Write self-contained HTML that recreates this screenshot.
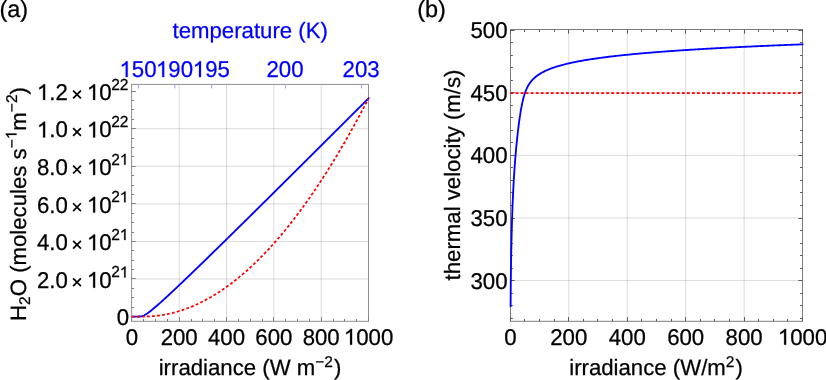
<!DOCTYPE html>
<html><head><meta charset="utf-8"><title>plot</title>
<style>
html,body{margin:0;padding:0;background:#fff;}
body{width:826px;height:380px;overflow:hidden;}
svg{display:block;will-change:transform;}
text{text-rendering:geometricPrecision;font-family:"Liberation Sans",sans-serif;font-size:22.2px;fill:#000;stroke:#000;stroke-width:0.25px;}
.b{fill:#0000ff;stroke:#0000ff;}
.s{font-size:15.5px;}
.l{font-size:23.5px;}
.h{fill:none;stroke:none;}
</style></head><body>
<svg width="826" height="380" viewBox="0 0 826 380">
<rect width="826" height="380" fill="#fff"></rect>

<line x1="179.19" y1="84.4" x2="179.19" y2="321.3" stroke="#000" stroke-opacity="0.145" stroke-width="1"></line>
<line x1="226.53" y1="84.4" x2="226.53" y2="321.3" stroke="#000" stroke-opacity="0.145" stroke-width="1"></line>
<line x1="273.87" y1="84.4" x2="273.87" y2="321.3" stroke="#000" stroke-opacity="0.145" stroke-width="1"></line>
<line x1="321.21" y1="84.4" x2="321.21" y2="321.3" stroke="#000" stroke-opacity="0.145" stroke-width="1"></line>
<line x1="131.6" y1="278.99" x2="368.5" y2="278.99" stroke="#000" stroke-opacity="0.145" stroke-width="1"></line>
<line x1="131.6" y1="241.43" x2="368.5" y2="241.43" stroke="#000" stroke-opacity="0.145" stroke-width="1"></line>
<line x1="131.6" y1="203.87" x2="368.5" y2="203.87" stroke="#000" stroke-opacity="0.145" stroke-width="1"></line>
<line x1="131.6" y1="166.31" x2="368.5" y2="166.31" stroke="#000" stroke-opacity="0.145" stroke-width="1"></line>
<line x1="131.6" y1="128.75" x2="368.5" y2="128.75" stroke="#000" stroke-opacity="0.145" stroke-width="1"></line>
<rect x="131.6" y="84.4" width="236.90" height="236.90" fill="none" stroke="#8f8f8f" stroke-width="1"></rect>
<line x1="131.50" y1="321.3" x2="131.50" y2="317.1" stroke="#808080" stroke-width="1"></line>
<line x1="143.50" y1="321.3" x2="143.50" y2="318.90000000000003" stroke="#808080" stroke-width="1"></line>
<line x1="155.50" y1="321.3" x2="155.50" y2="318.90000000000003" stroke="#808080" stroke-width="1"></line>
<line x1="167.50" y1="321.3" x2="167.50" y2="318.90000000000003" stroke="#808080" stroke-width="1"></line>
<line x1="179.50" y1="321.3" x2="179.50" y2="317.1" stroke="#808080" stroke-width="1"></line>
<line x1="191.50" y1="321.3" x2="191.50" y2="318.90000000000003" stroke="#808080" stroke-width="1"></line>
<line x1="202.50" y1="321.3" x2="202.50" y2="318.90000000000003" stroke="#808080" stroke-width="1"></line>
<line x1="214.50" y1="321.3" x2="214.50" y2="318.90000000000003" stroke="#808080" stroke-width="1"></line>
<line x1="226.50" y1="321.3" x2="226.50" y2="317.1" stroke="#808080" stroke-width="1"></line>
<line x1="238.50" y1="321.3" x2="238.50" y2="318.90000000000003" stroke="#808080" stroke-width="1"></line>
<line x1="250.50" y1="321.3" x2="250.50" y2="318.90000000000003" stroke="#808080" stroke-width="1"></line>
<line x1="262.50" y1="321.3" x2="262.50" y2="318.90000000000003" stroke="#808080" stroke-width="1"></line>
<line x1="273.50" y1="321.3" x2="273.50" y2="317.1" stroke="#808080" stroke-width="1"></line>
<line x1="285.50" y1="321.3" x2="285.50" y2="318.90000000000003" stroke="#808080" stroke-width="1"></line>
<line x1="297.50" y1="321.3" x2="297.50" y2="318.90000000000003" stroke="#808080" stroke-width="1"></line>
<line x1="309.50" y1="321.3" x2="309.50" y2="318.90000000000003" stroke="#808080" stroke-width="1"></line>
<line x1="321.50" y1="321.3" x2="321.50" y2="317.1" stroke="#808080" stroke-width="1"></line>
<line x1="333.50" y1="321.3" x2="333.50" y2="318.90000000000003" stroke="#808080" stroke-width="1"></line>
<line x1="344.50" y1="321.3" x2="344.50" y2="318.90000000000003" stroke="#808080" stroke-width="1"></line>
<line x1="356.50" y1="321.3" x2="356.50" y2="318.90000000000003" stroke="#808080" stroke-width="1"></line>
<line x1="368.50" y1="321.3" x2="368.50" y2="317.1" stroke="#808080" stroke-width="1"></line>
<line x1="131.6" y1="316.50" x2="135.79999999999998" y2="316.50" stroke="#808080" stroke-width="1"></line>
<line x1="131.6" y1="307.50" x2="134.0" y2="307.50" stroke="#808080" stroke-width="1"></line>
<line x1="131.6" y1="297.50" x2="134.0" y2="297.50" stroke="#808080" stroke-width="1"></line>
<line x1="131.6" y1="288.50" x2="134.0" y2="288.50" stroke="#808080" stroke-width="1"></line>
<line x1="131.6" y1="278.50" x2="135.79999999999998" y2="278.50" stroke="#808080" stroke-width="1"></line>
<line x1="131.6" y1="269.50" x2="134.0" y2="269.50" stroke="#808080" stroke-width="1"></line>
<line x1="131.6" y1="260.50" x2="134.0" y2="260.50" stroke="#808080" stroke-width="1"></line>
<line x1="131.6" y1="250.50" x2="134.0" y2="250.50" stroke="#808080" stroke-width="1"></line>
<line x1="131.6" y1="241.50" x2="135.79999999999998" y2="241.50" stroke="#808080" stroke-width="1"></line>
<line x1="131.6" y1="232.50" x2="134.0" y2="232.50" stroke="#808080" stroke-width="1"></line>
<line x1="131.6" y1="222.50" x2="134.0" y2="222.50" stroke="#808080" stroke-width="1"></line>
<line x1="131.6" y1="213.50" x2="134.0" y2="213.50" stroke="#808080" stroke-width="1"></line>
<line x1="131.6" y1="203.50" x2="135.79999999999998" y2="203.50" stroke="#808080" stroke-width="1"></line>
<line x1="131.6" y1="194.50" x2="134.0" y2="194.50" stroke="#808080" stroke-width="1"></line>
<line x1="131.6" y1="185.50" x2="134.0" y2="185.50" stroke="#808080" stroke-width="1"></line>
<line x1="131.6" y1="175.50" x2="134.0" y2="175.50" stroke="#808080" stroke-width="1"></line>
<line x1="131.6" y1="166.50" x2="135.79999999999998" y2="166.50" stroke="#808080" stroke-width="1"></line>
<line x1="131.6" y1="156.50" x2="134.0" y2="156.50" stroke="#808080" stroke-width="1"></line>
<line x1="131.6" y1="147.50" x2="134.0" y2="147.50" stroke="#808080" stroke-width="1"></line>
<line x1="131.6" y1="138.50" x2="134.0" y2="138.50" stroke="#808080" stroke-width="1"></line>
<line x1="131.6" y1="128.50" x2="135.79999999999998" y2="128.50" stroke="#808080" stroke-width="1"></line>
<line x1="131.6" y1="119.50" x2="134.0" y2="119.50" stroke="#808080" stroke-width="1"></line>
<line x1="131.6" y1="109.50" x2="134.0" y2="109.50" stroke="#808080" stroke-width="1"></line>
<line x1="131.6" y1="100.50" x2="134.0" y2="100.50" stroke="#808080" stroke-width="1"></line>
<line x1="131.6" y1="91.50" x2="135.79999999999998" y2="91.50" stroke="#808080" stroke-width="1"></line>
<line x1="138.4" y1="84.4" x2="138.4" y2="88.4" stroke="#9c9cff" stroke-width="1"></line>
<line x1="174.9" y1="84.4" x2="174.9" y2="88.4" stroke="#9c9cff" stroke-width="1"></line>
<line x1="211.7" y1="84.4" x2="211.7" y2="88.4" stroke="#9c9cff" stroke-width="1"></line>
<line x1="285.4" y1="84.4" x2="285.4" y2="88.4" stroke="#9c9cff" stroke-width="1"></line>
<line x1="361.5" y1="84.4" x2="361.5" y2="88.4" stroke="#9c9cff" stroke-width="1"></line>
<polyline points="131.85,316.55 132.45,316.55 133.04,316.55 133.64,316.55 134.23,316.55 134.83,316.55 135.42,316.55 136.02,316.55 136.61,316.55 137.21,316.55 137.80,316.55 138.40,316.54 138.99,316.53 139.59,316.51 140.18,316.47 140.78,316.40 141.37,316.30 141.97,316.16 142.56,315.98 143.16,315.77 143.75,315.51 144.35,315.22 144.94,314.90 145.54,314.56 146.13,314.19 146.73,313.81 147.32,313.40 147.92,312.99 148.51,312.56 149.11,312.11 149.70,311.66 150.30,311.20 150.89,310.74 151.49,310.26 152.08,309.78 152.68,309.29 153.27,308.80 153.87,308.30 154.46,307.80 155.06,307.30 155.65,306.79 156.25,306.27 156.84,305.76 157.44,305.24 158.03,304.72 158.63,304.19 159.22,303.67 159.82,303.14 160.41,302.61 161.01,302.07 161.60,301.54 162.20,301.00 162.79,300.47 163.39,299.93 163.98,299.38 164.58,298.84 165.17,298.30 165.77,297.75 166.36,297.20 166.96,296.66 167.55,296.11 168.15,295.56 168.74,295.01 169.34,294.45 169.93,293.90 170.53,293.35 171.12,292.79 171.72,292.24 172.31,291.68 172.91,291.12 173.50,290.56 174.10,290.00 174.69,289.44 175.29,288.88 175.88,288.32 176.48,287.76 177.07,287.20 177.67,286.64 178.26,286.07 178.86,285.51 179.45,284.95 180.05,284.38 180.64,283.81 181.24,283.25 181.83,282.68 182.43,282.11 183.02,281.55 183.62,280.98 184.21,280.41 184.81,279.84 185.40,279.27 186.00,278.70 186.59,278.13 187.19,277.56 187.78,276.99 188.38,276.42 188.97,275.85 189.57,275.28 190.16,274.71 190.76,274.13 191.35,273.56 191.95,272.99 192.54,272.42 193.14,271.84 193.73,271.27 194.33,270.69 194.92,270.12 195.52,269.54 196.11,268.97 196.71,268.39 197.30,267.82 197.90,267.24 198.49,266.67 199.09,266.09 199.68,265.51 200.28,264.94 200.87,264.36 201.47,263.78 202.06,263.20 202.66,262.63 203.25,262.05 203.85,261.47 204.44,260.89 205.04,260.31 205.63,259.74 206.23,259.16 206.82,258.58 207.42,258.00 208.01,257.42 208.61,256.84 209.20,256.26 209.80,255.68 210.39,255.10 210.99,254.52 211.58,253.94 212.18,253.36 212.77,252.78 213.37,252.20 213.96,251.62 214.56,251.03 215.15,250.45 215.75,249.87 216.34,249.29 216.94,248.71 217.53,248.13 218.13,247.54 218.72,246.96 219.32,246.38 219.91,245.80 220.51,245.22 221.10,244.63 221.70,244.05 222.29,243.47 222.89,242.88 223.48,242.30 224.08,241.72 224.67,241.13 225.27,240.55 225.86,239.97 226.46,239.38 227.05,238.80 227.65,238.21 228.24,237.63 228.84,237.05 229.43,236.46 230.03,235.88 230.62,235.29 231.22,234.71 231.81,234.12 232.41,233.54 233.00,232.95 233.60,232.37 234.19,231.78 234.79,231.20 235.38,230.61 235.98,230.03 236.57,229.44 237.17,228.86 237.76,228.27 238.36,227.68 238.95,227.10 239.55,226.51 240.14,225.93 240.74,225.34 241.33,224.75 241.93,224.17 242.52,223.58 243.12,222.99 243.71,222.41 244.31,221.82 244.90,221.23 245.50,220.65 246.09,220.06 246.69,219.47 247.28,218.89 247.88,218.30 248.47,217.71 249.07,217.12 249.66,216.54 250.26,215.95 250.85,215.36 251.45,214.78 252.04,214.19 252.64,213.60 253.23,213.01 253.83,212.42 254.42,211.84 255.02,211.25 255.61,210.66 256.21,210.07 256.80,209.48 257.40,208.90 257.99,208.31 258.59,207.72 259.18,207.13 259.78,206.54 260.37,205.95 260.97,205.37 261.56,204.78 262.16,204.19 262.75,203.60 263.35,203.01 263.94,202.42 264.54,201.83 265.13,201.24 265.73,200.66 266.32,200.07 266.92,199.48 267.51,198.89 268.11,198.30 268.70,197.71 269.30,197.12 269.89,196.53 270.49,195.94 271.08,195.35 271.68,194.76 272.27,194.17 272.87,193.58 273.46,192.99 274.06,192.40 274.65,191.81 275.25,191.22 275.84,190.63 276.44,190.04 277.03,189.45 277.63,188.86 278.22,188.27 278.82,187.68 279.41,187.09 280.01,186.50 280.60,185.91 281.20,185.32 281.79,184.73 282.39,184.14 282.98,183.55 283.58,182.96 284.17,182.37 284.77,181.78 285.36,181.19 285.96,180.60 286.55,180.01 287.15,179.42 287.74,178.83 288.34,178.24 288.93,177.65 289.53,177.05 290.12,176.46 290.72,175.87 291.31,175.28 291.91,174.69 292.50,174.10 293.10,173.51 293.69,172.92 294.29,172.33 294.88,171.73 295.48,171.14 296.07,170.55 296.67,169.96 297.26,169.37 297.86,168.78 298.45,168.19 299.05,167.60 299.64,167.00 300.24,166.41 300.83,165.82 301.43,165.23 302.02,164.64 302.62,164.05 303.21,163.45 303.81,162.86 304.40,162.27 305.00,161.68 305.59,161.09 306.19,160.50 306.78,159.90 307.38,159.31 307.97,158.72 308.57,158.13 309.16,157.54 309.76,156.94 310.35,156.35 310.95,155.76 311.54,155.17 312.14,154.57 312.73,153.98 313.33,153.39 313.92,152.80 314.52,152.21 315.11,151.61 315.71,151.02 316.30,150.43 316.90,149.84 317.49,149.24 318.09,148.65 318.68,148.06 319.28,147.47 319.87,146.87 320.47,146.28 321.06,145.69 321.66,145.10 322.25,144.50 322.85,143.91 323.44,143.32 324.04,142.73 324.63,142.13 325.23,141.54 325.82,140.95 326.42,140.35 327.01,139.76 327.61,139.17 328.20,138.58 328.80,137.98 329.39,137.39 329.99,136.80 330.58,136.20 331.18,135.61 331.77,135.02 332.37,134.42 332.96,133.83 333.56,133.24 334.15,132.65 334.75,132.05 335.34,131.46 335.94,130.87 336.53,130.27 337.13,129.68 337.72,129.09 338.32,128.49 338.91,127.90 339.51,127.31 340.10,126.71 340.70,126.12 341.29,125.53 341.89,124.93 342.48,124.34 343.08,123.75 343.67,123.15 344.27,122.56 344.86,121.96 345.46,121.37 346.05,120.78 346.65,120.18 347.24,119.59 347.84,119.00 348.43,118.40 349.03,117.81 349.62,117.22 350.22,116.62 350.81,116.03 351.41,115.43 352.00,114.84 352.60,114.25 353.19,113.65 353.79,113.06 354.38,112.47 354.98,111.87 355.57,111.28 356.17,110.68 356.76,110.09 357.36,109.50 357.95,108.90 358.55,108.31 359.14,107.71 359.74,107.12 360.33,106.53 360.93,105.93 361.52,105.34 362.12,104.74 362.71,104.15 363.31,103.55 363.90,102.96 364.50,102.37 365.10,101.77 365.69,101.18 366.29,100.58 366.88,99.99 367.48,99.39 368.07,98.80 368.67,98.21 369.26,97.61" fill="none" stroke="#0000ff" stroke-width="1.85" stroke-linejoin="round"></polyline>
<polyline points="131.85,316.55 132.44,316.55 133.04,316.55 133.63,316.55 134.22,316.55 134.82,316.55 135.41,316.55 136.00,316.55 136.60,316.55 137.19,316.55 137.78,316.55 138.38,316.55 138.97,316.55 139.56,316.55 140.16,316.55 140.75,316.55 141.34,316.55 141.93,316.55 142.53,316.55 143.12,316.55 143.71,316.55 144.31,316.55 144.90,316.54 145.49,316.54 146.09,316.53 146.68,316.51 147.27,316.49 147.87,316.47 148.46,316.45 149.05,316.43 149.65,316.40 150.24,316.36 150.83,316.33 151.43,316.29 152.02,316.25 152.61,316.21 153.21,316.16 153.80,316.11 154.39,316.06 154.99,316.00 155.58,315.94 156.17,315.88 156.77,315.81 157.36,315.74 157.95,315.67 158.55,315.60 159.14,315.52 159.73,315.44 160.33,315.35 160.92,315.27 161.51,315.18 162.10,315.09 162.70,314.99 163.29,314.89 163.88,314.79 164.48,314.68 165.07,314.58 165.66,314.47 166.26,314.35 166.85,314.23 167.44,314.11 168.04,313.99 168.63,313.86 169.22,313.74 169.82,313.60 170.41,313.47 171.00,313.33 171.60,313.19 172.19,313.04 172.78,312.90 173.38,312.75 173.97,312.59 174.56,312.44 175.16,312.28 175.75,312.11 176.34,311.95 176.94,311.78 177.53,311.61 178.12,311.43 178.72,311.25 179.31,311.07 179.90,310.89 180.50,310.70 181.09,310.51 181.68,310.32 182.27,310.12 182.87,309.92 183.46,309.72 184.05,309.52 184.65,309.31 185.24,309.10 185.83,308.88 186.43,308.67 187.02,308.44 187.61,308.22 188.21,307.99 188.80,307.77 189.39,307.53 189.99,307.30 190.58,307.06 191.17,306.82 191.77,306.57 192.36,306.32 192.95,306.07 193.55,305.82 194.14,305.56 194.73,305.30 195.33,305.04 195.92,304.77 196.51,304.51 197.11,304.23 197.70,303.96 198.29,303.68 198.89,303.40 199.48,303.12 200.07,302.83 200.67,302.54 201.26,302.24 201.85,301.95 202.44,301.65 203.04,301.35 203.63,301.04 204.22,300.73 204.82,300.42 205.41,300.11 206.00,299.79 206.60,299.47 207.19,299.14 207.78,298.82 208.38,298.49 208.97,298.16 209.56,297.82 210.16,297.48 210.75,297.14 211.34,296.79 211.94,296.45 212.53,296.09 213.12,295.74 213.72,295.38 214.31,295.02 214.90,294.66 215.50,294.29 216.09,293.92 216.68,293.55 217.28,293.18 217.87,292.80 218.46,292.42 219.06,292.03 219.65,291.65 220.24,291.25 220.83,290.86 221.43,290.46 222.02,290.07 222.61,289.66 223.21,289.26 223.80,288.85 224.39,288.44 224.99,288.02 225.58,287.60 226.17,287.18 226.77,286.76 227.36,286.33 227.95,285.90 228.55,285.47 229.14,285.03 229.73,284.59 230.33,284.15 230.92,283.71 231.51,283.26 232.11,282.81 232.70,282.35 233.29,281.90 233.89,281.44 234.48,280.97 235.07,280.51 235.67,280.04 236.26,279.56 236.85,279.09 237.45,278.61 238.04,278.13 238.63,277.64 239.23,277.16 239.82,276.66 240.41,276.17 241.00,275.67 241.60,275.17 242.19,274.67 242.78,274.16 243.38,273.66 243.97,273.14 244.56,272.63 245.16,272.11 245.75,271.59 246.34,271.07 246.94,270.54 247.53,270.01 248.12,269.47 248.72,268.94 249.31,268.40 249.90,267.86 250.50,267.31 251.09,266.76 251.68,266.21 252.28,265.66 252.87,265.10 253.46,264.54 254.06,263.98 254.65,263.41 255.24,262.84 255.84,262.27 256.43,261.69 257.02,261.11 257.62,260.53 258.21,259.94 258.80,259.36 259.40,258.77 259.99,258.17 260.58,257.57 261.17,256.97 261.77,256.37 262.36,255.77 262.95,255.16 263.55,254.54 264.14,253.93 264.73,253.31 265.33,252.69 265.92,252.06 266.51,251.44 267.11,250.81 267.70,250.17 268.29,249.54 268.89,248.90 269.48,248.25 270.07,247.61 270.67,246.96 271.26,246.31 271.85,245.65 272.45,245.00 273.04,244.33 273.63,243.67 274.23,243.00 274.82,242.33 275.41,241.66 276.01,240.98 276.60,240.31 277.19,239.62 277.79,238.94 278.38,238.25 278.97,237.56 279.57,236.86 280.16,236.17 280.75,235.47 281.34,234.76 281.94,234.06 282.53,233.35 283.12,232.63 283.72,231.92 284.31,231.20 284.90,230.48 285.50,229.75 286.09,229.03 286.68,228.30 287.28,227.56 287.87,226.83 288.46,226.09 289.06,225.34 289.65,224.60 290.24,223.85 290.84,223.10 291.43,222.34 292.02,221.58 292.62,220.82 293.21,220.06 293.80,219.29 294.40,218.52 294.99,217.75 295.58,216.97 296.18,216.19 296.77,215.41 297.36,214.62 297.96,213.84 298.55,213.04 299.14,212.25 299.73,211.45 300.33,210.65 300.92,209.85 301.51,209.04 302.11,208.23 302.70,207.42 303.29,206.60 303.89,205.78 304.48,204.96 305.07,204.14 305.67,203.31 306.26,202.48 306.85,201.64 307.45,200.81 308.04,199.97 308.63,199.12 309.23,198.28 309.82,197.43 310.41,196.58 311.01,195.72 311.60,194.86 312.19,194.00 312.79,193.14 313.38,192.27 313.97,191.40 314.57,190.53 315.16,189.65 315.75,188.77 316.35,187.89 316.94,187.00 317.53,186.11 318.13,185.22 318.72,184.33 319.31,183.43 319.90,182.53 320.50,181.62 321.09,180.72 321.68,179.81 322.28,178.89 322.87,177.98 323.46,177.06 324.06,176.14 324.65,175.21 325.24,174.28 325.84,173.35 326.43,172.42 327.02,171.48 327.62,170.54 328.21,169.60 328.80,168.65 329.40,167.70 329.99,166.75 330.58,165.79 331.18,164.83 331.77,163.87 332.36,162.91 332.96,161.94 333.55,160.97 334.14,160.00 334.74,159.02 335.33,158.04 335.92,157.06 336.52,156.07 337.11,155.08 337.70,154.09 338.30,153.09 338.89,152.10 339.48,151.10 340.07,150.09 340.67,149.08 341.26,148.07 341.85,147.06 342.45,146.04 343.04,145.03 343.63,144.00 344.23,142.98 344.82,141.95 345.41,140.92 346.01,139.88 346.60,138.85 347.19,137.80 347.79,136.76 348.38,135.71 348.97,134.66 349.57,133.61 350.16,132.56 350.75,131.50 351.35,130.44 351.94,129.37 352.53,128.30 353.13,127.23 353.72,126.16 354.31,125.08 354.91,124.00 355.50,122.92 356.09,121.83 356.69,120.74 357.28,119.65 357.87,118.56 358.47,117.46 359.06,116.36 359.65,115.25 360.24,114.14 360.84,113.03 361.43,111.92 362.02,110.80 362.62,109.68 363.21,108.56 363.80,107.44 364.40,106.31 364.99,105.18 365.58,104.04 366.18,102.90 366.77,101.76 367.36,100.62 367.96,99.47 368.55,98.32" fill="none" stroke="#ff0000" stroke-width="1.75" stroke-dasharray="2.9,2.14"></polyline>
<text transform="translate(131.85,344.65) scale(1,1.03)" text-anchor="middle">0</text>
<text transform="translate(179.19,344.65) scale(1,1.03)" text-anchor="middle">200</text>
<text transform="translate(226.53,344.65) scale(1,1.03)" text-anchor="middle">400</text>
<text transform="translate(273.87,344.65) scale(1,1.03)" text-anchor="middle">600</text>
<text transform="translate(321.21,344.65) scale(1,1.03)" text-anchor="middle">800</text>
<text transform="translate(368.55,344.65) scale(1,1.03)" text-anchor="middle"><tspan class="h">1</tspan>000</text><path d="M575 0V1150Q512 1088 408 1026T220 934V1104Q368 1174 479 1273T638 1409H756V0Z" fill="rgb(0, 0, 0)" stroke="rgb(0, 0, 0)" stroke-width="23.1" transform="translate(368.55,344.65) scale(1,1.03) translate(-24.69,0.00) scale(0.01084,-0.01084)"></path>
<text class="b" transform="translate(138.0,77.1) scale(1,1.03)" text-anchor="middle"><tspan class="h">1</tspan>50</text><path d="M575 0V1150Q512 1088 408 1026T220 934V1104Q368 1174 479 1273T638 1409H756V0Z" fill="rgb(0, 0, 255)" stroke="rgb(0, 0, 255)" stroke-width="23.1" transform="translate(138.0,77.1) scale(1,1.03) translate(-18.52,0.00) scale(0.01084,-0.01084)"></path>
<text class="b" transform="translate(174.5,77.1) scale(1,1.03)" text-anchor="middle"><tspan class="h">1</tspan>90</text><path d="M575 0V1150Q512 1088 408 1026T220 934V1104Q368 1174 479 1273T638 1409H756V0Z" fill="rgb(0, 0, 255)" stroke="rgb(0, 0, 255)" stroke-width="23.1" transform="translate(174.5,77.1) scale(1,1.03) translate(-18.52,0.00) scale(0.01084,-0.01084)"></path>
<text class="b" transform="translate(211.29999999999998,77.1) scale(1,1.03)" text-anchor="middle"><tspan class="h">1</tspan>95</text><path d="M575 0V1150Q512 1088 408 1026T220 934V1104Q368 1174 479 1273T638 1409H756V0Z" fill="rgb(0, 0, 255)" stroke="rgb(0, 0, 255)" stroke-width="23.1" transform="translate(211.29999999999998,77.1) scale(1,1.03) translate(-18.52,0.00) scale(0.01084,-0.01084)"></path>
<text class="b" transform="translate(285.0,77.1) scale(1,1.03)" text-anchor="middle">200</text>
<text class="b" transform="translate(361.1,77.1) scale(1,1.03)" text-anchor="middle">203</text>
<text transform="translate(36.9,99.89) scale(1,1.03)"><tspan class="h">1</tspan>.2</text><path d="M575 0V1150Q512 1088 408 1026T220 934V1104Q368 1174 479 1273T638 1409H756V0Z" fill="rgb(0, 0, 0)" stroke="rgb(0, 0, 0)" stroke-width="23.1" transform="translate(36.9,99.89) scale(1,1.03) translate(0.00,0.00) scale(0.01084,-0.01084)"></path>
<path d="M73.10 90.59L80.90 98.39M73.10 98.39L80.90 90.59" stroke="#000" stroke-width="1.7" fill="none"></path>
<text transform="translate(111.6,99.89) scale(1,1.03)" text-anchor="end"><tspan class="h">1</tspan>0</text><path d="M575 0V1150Q512 1088 408 1026T220 934V1104Q368 1174 479 1273T638 1409H756V0Z" fill="rgb(0, 0, 0)" stroke="rgb(0, 0, 0)" stroke-width="23.1" transform="translate(111.6,99.89) scale(1,1.03) translate(-24.69,0.00) scale(0.01084,-0.01084)"></path>
<text class="s" transform="translate(111.2,89.69) scale(1,1.03)">22</text>
<text transform="translate(36.9,137.45) scale(1,1.03)"><tspan class="h">1</tspan>.0</text><path d="M575 0V1150Q512 1088 408 1026T220 934V1104Q368 1174 479 1273T638 1409H756V0Z" fill="rgb(0, 0, 0)" stroke="rgb(0, 0, 0)" stroke-width="23.1" transform="translate(36.9,137.45) scale(1,1.03) translate(0.00,0.00) scale(0.01084,-0.01084)"></path>
<path d="M73.10 128.15L80.90 135.95M73.10 135.95L80.90 128.15" stroke="#000" stroke-width="1.7" fill="none"></path>
<text transform="translate(111.6,137.45) scale(1,1.03)" text-anchor="end"><tspan class="h">1</tspan>0</text><path d="M575 0V1150Q512 1088 408 1026T220 934V1104Q368 1174 479 1273T638 1409H756V0Z" fill="rgb(0, 0, 0)" stroke="rgb(0, 0, 0)" stroke-width="23.1" transform="translate(111.6,137.45) scale(1,1.03) translate(-24.69,0.00) scale(0.01084,-0.01084)"></path>
<text class="s" transform="translate(111.2,127.25) scale(1,1.03)">22</text>
<text transform="translate(36.9,175.01) scale(1,1.03)">8.0</text>
<path d="M73.10 165.71L80.90 173.51M73.10 173.51L80.90 165.71" stroke="#000" stroke-width="1.7" fill="none"></path>
<text transform="translate(111.6,175.01) scale(1,1.03)" text-anchor="end"><tspan class="h">1</tspan>0</text><path d="M575 0V1150Q512 1088 408 1026T220 934V1104Q368 1174 479 1273T638 1409H756V0Z" fill="rgb(0, 0, 0)" stroke="rgb(0, 0, 0)" stroke-width="23.1" transform="translate(111.6,175.01) scale(1,1.03) translate(-24.69,0.00) scale(0.01084,-0.01084)"></path>
<text class="s" transform="translate(111.2,164.81) scale(1,1.03)">2<tspan class="h">1</tspan></text><path d="M575 0V1150Q512 1088 408 1026T220 934V1104Q368 1174 479 1273T638 1409H756V0Z" fill="rgb(0, 0, 0)" stroke="rgb(0, 0, 0)" stroke-width="33.0" transform="translate(111.2,164.81) scale(1,1.03) translate(8.63,0.00) scale(0.00757,-0.00757)"></path>
<text transform="translate(36.9,212.57) scale(1,1.03)">6.0</text>
<path d="M73.10 203.27L80.90 211.07M73.10 211.07L80.90 203.27" stroke="#000" stroke-width="1.7" fill="none"></path>
<text transform="translate(111.6,212.57) scale(1,1.03)" text-anchor="end"><tspan class="h">1</tspan>0</text><path d="M575 0V1150Q512 1088 408 1026T220 934V1104Q368 1174 479 1273T638 1409H756V0Z" fill="rgb(0, 0, 0)" stroke="rgb(0, 0, 0)" stroke-width="23.1" transform="translate(111.6,212.57) scale(1,1.03) translate(-24.69,0.00) scale(0.01084,-0.01084)"></path>
<text class="s" transform="translate(111.2,202.37) scale(1,1.03)">2<tspan class="h">1</tspan></text><path d="M575 0V1150Q512 1088 408 1026T220 934V1104Q368 1174 479 1273T638 1409H756V0Z" fill="rgb(0, 0, 0)" stroke="rgb(0, 0, 0)" stroke-width="33.0" transform="translate(111.2,202.37) scale(1,1.03) translate(8.63,0.00) scale(0.00757,-0.00757)"></path>
<text transform="translate(36.9,250.13) scale(1,1.03)">4.0</text>
<path d="M73.10 240.83L80.90 248.63M73.10 248.63L80.90 240.83" stroke="#000" stroke-width="1.7" fill="none"></path>
<text transform="translate(111.6,250.13) scale(1,1.03)" text-anchor="end"><tspan class="h">1</tspan>0</text><path d="M575 0V1150Q512 1088 408 1026T220 934V1104Q368 1174 479 1273T638 1409H756V0Z" fill="rgb(0, 0, 0)" stroke="rgb(0, 0, 0)" stroke-width="23.1" transform="translate(111.6,250.13) scale(1,1.03) translate(-24.69,0.00) scale(0.01084,-0.01084)"></path>
<text class="s" transform="translate(111.2,239.93) scale(1,1.03)">2<tspan class="h">1</tspan></text><path d="M575 0V1150Q512 1088 408 1026T220 934V1104Q368 1174 479 1273T638 1409H756V0Z" fill="rgb(0, 0, 0)" stroke="rgb(0, 0, 0)" stroke-width="33.0" transform="translate(111.2,239.93) scale(1,1.03) translate(8.63,0.00) scale(0.00757,-0.00757)"></path>
<text transform="translate(36.9,287.69) scale(1,1.03)">2.0</text>
<path d="M73.10 278.39L80.90 286.19M73.10 286.19L80.90 278.39" stroke="#000" stroke-width="1.7" fill="none"></path>
<text transform="translate(111.6,287.69) scale(1,1.03)" text-anchor="end"><tspan class="h">1</tspan>0</text><path d="M575 0V1150Q512 1088 408 1026T220 934V1104Q368 1174 479 1273T638 1409H756V0Z" fill="rgb(0, 0, 0)" stroke="rgb(0, 0, 0)" stroke-width="23.1" transform="translate(111.6,287.69) scale(1,1.03) translate(-24.69,0.00) scale(0.01084,-0.01084)"></path>
<text class="s" transform="translate(111.2,277.49) scale(1,1.03)">2<tspan class="h">1</tspan></text><path d="M575 0V1150Q512 1088 408 1026T220 934V1104Q368 1174 479 1273T638 1409H756V0Z" fill="rgb(0, 0, 0)" stroke="rgb(0, 0, 0)" stroke-width="33.0" transform="translate(111.2,277.49) scale(1,1.03) translate(8.63,0.00) scale(0.00757,-0.00757)"></path>
<text transform="translate(129,324.55) scale(1,1.03)" text-anchor="end">0</text>
<text class="l" x="-0.6" y="16.8">(a)</text>
<text class="b" x="250.2" y="37.5" text-anchor="middle">temperature (K)</text>
<text x="250" y="374.6" text-anchor="middle">irradiance (W m<tspan class="s" dy="-7.8">−2</tspan><tspan dy="7.8" dx="1">)</tspan></text>
<text transform="translate(25.7,204) rotate(-90)" text-anchor="middle">H<tspan class="s" dy="4.5">2</tspan><tspan dy="-4.5">O (molecules s</tspan><tspan class="s" dy="-9.2">−<tspan class="h">1</tspan></tspan><tspan dy="9.2">m</tspan><tspan class="s" dy="-9.2">−2</tspan><tspan dy="9.2">)</tspan></text><path d="M575 0V1150Q512 1088 408 1026T220 934V1104Q368 1174 479 1273T638 1409H756V0Z" fill="rgb(0, 0, 0)" stroke="rgb(0, 0, 0)" stroke-width="33.0" transform="translate(25.7,204) rotate(-90) translate(64.75,-9.20) scale(0.00757,-0.00757)"></path>
<line x1="568.76" y1="29.5" x2="568.76" y2="321.3" stroke="#000" stroke-opacity="0.145" stroke-width="1"></line>
<line x1="627.22" y1="29.5" x2="627.22" y2="321.3" stroke="#000" stroke-opacity="0.145" stroke-width="1"></line>
<line x1="685.68" y1="29.5" x2="685.68" y2="321.3" stroke="#000" stroke-opacity="0.145" stroke-width="1"></line>
<line x1="744.14" y1="29.5" x2="744.14" y2="321.3" stroke="#000" stroke-opacity="0.145" stroke-width="1"></line>
<line x1="510.5" y1="280.60" x2="802.5" y2="280.60" stroke="#000" stroke-opacity="0.145" stroke-width="1"></line>
<line x1="510.5" y1="218.00" x2="802.5" y2="218.00" stroke="#000" stroke-opacity="0.145" stroke-width="1"></line>
<line x1="510.5" y1="155.40" x2="802.5" y2="155.40" stroke="#000" stroke-opacity="0.145" stroke-width="1"></line>
<line x1="510.5" y1="92.80" x2="802.5" y2="92.80" stroke="#000" stroke-opacity="0.145" stroke-width="1"></line>
<rect x="510.5" y="29.5" width="292.00" height="291.80" fill="none" stroke="#7c7c7c" stroke-width="1"></rect>
<line x1="510.50" y1="321.3" x2="510.50" y2="317.1" stroke="#5c5c5c" stroke-width="1"></line>
<line x1="510.50" y1="29.5" x2="510.50" y2="33.7" stroke="#5c5c5c" stroke-width="1"></line>
<line x1="524.50" y1="321.3" x2="524.50" y2="318.90000000000003" stroke="#5c5c5c" stroke-width="1"></line>
<line x1="524.50" y1="29.5" x2="524.50" y2="31.9" stroke="#5c5c5c" stroke-width="1"></line>
<line x1="539.50" y1="321.3" x2="539.50" y2="318.90000000000003" stroke="#5c5c5c" stroke-width="1"></line>
<line x1="539.50" y1="29.5" x2="539.50" y2="31.9" stroke="#5c5c5c" stroke-width="1"></line>
<line x1="554.50" y1="321.3" x2="554.50" y2="318.90000000000003" stroke="#5c5c5c" stroke-width="1"></line>
<line x1="554.50" y1="29.5" x2="554.50" y2="31.9" stroke="#5c5c5c" stroke-width="1"></line>
<line x1="568.50" y1="321.3" x2="568.50" y2="317.1" stroke="#5c5c5c" stroke-width="1"></line>
<line x1="568.50" y1="29.5" x2="568.50" y2="33.7" stroke="#5c5c5c" stroke-width="1"></line>
<line x1="583.50" y1="321.3" x2="583.50" y2="318.90000000000003" stroke="#5c5c5c" stroke-width="1"></line>
<line x1="583.50" y1="29.5" x2="583.50" y2="31.9" stroke="#5c5c5c" stroke-width="1"></line>
<line x1="597.50" y1="321.3" x2="597.50" y2="318.90000000000003" stroke="#5c5c5c" stroke-width="1"></line>
<line x1="597.50" y1="29.5" x2="597.50" y2="31.9" stroke="#5c5c5c" stroke-width="1"></line>
<line x1="612.50" y1="321.3" x2="612.50" y2="318.90000000000003" stroke="#5c5c5c" stroke-width="1"></line>
<line x1="612.50" y1="29.5" x2="612.50" y2="31.9" stroke="#5c5c5c" stroke-width="1"></line>
<line x1="627.50" y1="321.3" x2="627.50" y2="317.1" stroke="#5c5c5c" stroke-width="1"></line>
<line x1="627.50" y1="29.5" x2="627.50" y2="33.7" stroke="#5c5c5c" stroke-width="1"></line>
<line x1="641.50" y1="321.3" x2="641.50" y2="318.90000000000003" stroke="#5c5c5c" stroke-width="1"></line>
<line x1="641.50" y1="29.5" x2="641.50" y2="31.9" stroke="#5c5c5c" stroke-width="1"></line>
<line x1="656.50" y1="321.3" x2="656.50" y2="318.90000000000003" stroke="#5c5c5c" stroke-width="1"></line>
<line x1="656.50" y1="29.5" x2="656.50" y2="31.9" stroke="#5c5c5c" stroke-width="1"></line>
<line x1="671.50" y1="321.3" x2="671.50" y2="318.90000000000003" stroke="#5c5c5c" stroke-width="1"></line>
<line x1="671.50" y1="29.5" x2="671.50" y2="31.9" stroke="#5c5c5c" stroke-width="1"></line>
<line x1="685.50" y1="321.3" x2="685.50" y2="317.1" stroke="#5c5c5c" stroke-width="1"></line>
<line x1="685.50" y1="29.5" x2="685.50" y2="33.7" stroke="#5c5c5c" stroke-width="1"></line>
<line x1="700.50" y1="321.3" x2="700.50" y2="318.90000000000003" stroke="#5c5c5c" stroke-width="1"></line>
<line x1="700.50" y1="29.5" x2="700.50" y2="31.9" stroke="#5c5c5c" stroke-width="1"></line>
<line x1="714.50" y1="321.3" x2="714.50" y2="318.90000000000003" stroke="#5c5c5c" stroke-width="1"></line>
<line x1="714.50" y1="29.5" x2="714.50" y2="31.9" stroke="#5c5c5c" stroke-width="1"></line>
<line x1="729.50" y1="321.3" x2="729.50" y2="318.90000000000003" stroke="#5c5c5c" stroke-width="1"></line>
<line x1="729.50" y1="29.5" x2="729.50" y2="31.9" stroke="#5c5c5c" stroke-width="1"></line>
<line x1="744.50" y1="321.3" x2="744.50" y2="317.1" stroke="#5c5c5c" stroke-width="1"></line>
<line x1="744.50" y1="29.5" x2="744.50" y2="33.7" stroke="#5c5c5c" stroke-width="1"></line>
<line x1="758.50" y1="321.3" x2="758.50" y2="318.90000000000003" stroke="#5c5c5c" stroke-width="1"></line>
<line x1="758.50" y1="29.5" x2="758.50" y2="31.9" stroke="#5c5c5c" stroke-width="1"></line>
<line x1="773.50" y1="321.3" x2="773.50" y2="318.90000000000003" stroke="#5c5c5c" stroke-width="1"></line>
<line x1="773.50" y1="29.5" x2="773.50" y2="31.9" stroke="#5c5c5c" stroke-width="1"></line>
<line x1="787.50" y1="321.3" x2="787.50" y2="318.90000000000003" stroke="#5c5c5c" stroke-width="1"></line>
<line x1="787.50" y1="29.5" x2="787.50" y2="31.9" stroke="#5c5c5c" stroke-width="1"></line>
<line x1="802.50" y1="321.3" x2="802.50" y2="317.1" stroke="#5c5c5c" stroke-width="1"></line>
<line x1="802.50" y1="29.5" x2="802.50" y2="33.7" stroke="#5c5c5c" stroke-width="1"></line>
<line x1="510.5" y1="318.50" x2="512.9" y2="318.50" stroke="#5c5c5c" stroke-width="1"></line>
<line x1="802.5" y1="318.50" x2="800.1" y2="318.50" stroke="#5c5c5c" stroke-width="1"></line>
<line x1="510.5" y1="305.50" x2="512.9" y2="305.50" stroke="#5c5c5c" stroke-width="1"></line>
<line x1="802.5" y1="305.50" x2="800.1" y2="305.50" stroke="#5c5c5c" stroke-width="1"></line>
<line x1="510.5" y1="293.50" x2="512.9" y2="293.50" stroke="#5c5c5c" stroke-width="1"></line>
<line x1="802.5" y1="293.50" x2="800.1" y2="293.50" stroke="#5c5c5c" stroke-width="1"></line>
<line x1="510.5" y1="280.50" x2="514.7" y2="280.50" stroke="#5c5c5c" stroke-width="1"></line>
<line x1="802.5" y1="280.50" x2="798.3" y2="280.50" stroke="#5c5c5c" stroke-width="1"></line>
<line x1="510.5" y1="268.50" x2="512.9" y2="268.50" stroke="#5c5c5c" stroke-width="1"></line>
<line x1="802.5" y1="268.50" x2="800.1" y2="268.50" stroke="#5c5c5c" stroke-width="1"></line>
<line x1="510.5" y1="255.50" x2="512.9" y2="255.50" stroke="#5c5c5c" stroke-width="1"></line>
<line x1="802.5" y1="255.50" x2="800.1" y2="255.50" stroke="#5c5c5c" stroke-width="1"></line>
<line x1="510.5" y1="243.50" x2="512.9" y2="243.50" stroke="#5c5c5c" stroke-width="1"></line>
<line x1="802.5" y1="243.50" x2="800.1" y2="243.50" stroke="#5c5c5c" stroke-width="1"></line>
<line x1="510.5" y1="230.50" x2="512.9" y2="230.50" stroke="#5c5c5c" stroke-width="1"></line>
<line x1="802.5" y1="230.50" x2="800.1" y2="230.50" stroke="#5c5c5c" stroke-width="1"></line>
<line x1="510.5" y1="218.50" x2="514.7" y2="218.50" stroke="#5c5c5c" stroke-width="1"></line>
<line x1="802.5" y1="218.50" x2="798.3" y2="218.50" stroke="#5c5c5c" stroke-width="1"></line>
<line x1="510.5" y1="205.50" x2="512.9" y2="205.50" stroke="#5c5c5c" stroke-width="1"></line>
<line x1="802.5" y1="205.50" x2="800.1" y2="205.50" stroke="#5c5c5c" stroke-width="1"></line>
<line x1="510.5" y1="192.50" x2="512.9" y2="192.50" stroke="#5c5c5c" stroke-width="1"></line>
<line x1="802.5" y1="192.50" x2="800.1" y2="192.50" stroke="#5c5c5c" stroke-width="1"></line>
<line x1="510.5" y1="180.50" x2="512.9" y2="180.50" stroke="#5c5c5c" stroke-width="1"></line>
<line x1="802.5" y1="180.50" x2="800.1" y2="180.50" stroke="#5c5c5c" stroke-width="1"></line>
<line x1="510.5" y1="167.50" x2="512.9" y2="167.50" stroke="#5c5c5c" stroke-width="1"></line>
<line x1="802.5" y1="167.50" x2="800.1" y2="167.50" stroke="#5c5c5c" stroke-width="1"></line>
<line x1="510.5" y1="155.50" x2="514.7" y2="155.50" stroke="#5c5c5c" stroke-width="1"></line>
<line x1="802.5" y1="155.50" x2="798.3" y2="155.50" stroke="#5c5c5c" stroke-width="1"></line>
<line x1="510.5" y1="142.50" x2="512.9" y2="142.50" stroke="#5c5c5c" stroke-width="1"></line>
<line x1="802.5" y1="142.50" x2="800.1" y2="142.50" stroke="#5c5c5c" stroke-width="1"></line>
<line x1="510.5" y1="130.50" x2="512.9" y2="130.50" stroke="#5c5c5c" stroke-width="1"></line>
<line x1="802.5" y1="130.50" x2="800.1" y2="130.50" stroke="#5c5c5c" stroke-width="1"></line>
<line x1="510.5" y1="117.50" x2="512.9" y2="117.50" stroke="#5c5c5c" stroke-width="1"></line>
<line x1="802.5" y1="117.50" x2="800.1" y2="117.50" stroke="#5c5c5c" stroke-width="1"></line>
<line x1="510.5" y1="105.50" x2="512.9" y2="105.50" stroke="#5c5c5c" stroke-width="1"></line>
<line x1="802.5" y1="105.50" x2="800.1" y2="105.50" stroke="#5c5c5c" stroke-width="1"></line>
<line x1="510.5" y1="92.50" x2="514.7" y2="92.50" stroke="#5c5c5c" stroke-width="1"></line>
<line x1="802.5" y1="92.50" x2="798.3" y2="92.50" stroke="#5c5c5c" stroke-width="1"></line>
<line x1="510.5" y1="80.50" x2="512.9" y2="80.50" stroke="#5c5c5c" stroke-width="1"></line>
<line x1="802.5" y1="80.50" x2="800.1" y2="80.50" stroke="#5c5c5c" stroke-width="1"></line>
<line x1="510.5" y1="67.50" x2="512.9" y2="67.50" stroke="#5c5c5c" stroke-width="1"></line>
<line x1="802.5" y1="67.50" x2="800.1" y2="67.50" stroke="#5c5c5c" stroke-width="1"></line>
<line x1="510.5" y1="55.50" x2="512.9" y2="55.50" stroke="#5c5c5c" stroke-width="1"></line>
<line x1="802.5" y1="55.50" x2="800.1" y2="55.50" stroke="#5c5c5c" stroke-width="1"></line>
<line x1="510.5" y1="42.50" x2="512.9" y2="42.50" stroke="#5c5c5c" stroke-width="1"></line>
<line x1="802.5" y1="42.50" x2="800.1" y2="42.50" stroke="#5c5c5c" stroke-width="1"></line>
<line x1="510.5" y1="30.50" x2="514.7" y2="30.50" stroke="#5c5c5c" stroke-width="1"></line>
<line x1="802.5" y1="30.50" x2="798.3" y2="30.50" stroke="#5c5c5c" stroke-width="1"></line>
<polyline points="510.65,306.89 510.62,302.93 510.68,295.48 510.74,288.97 510.80,283.18 510.85,277.96 510.91,273.20 510.97,268.82 511.03,264.76 511.09,260.98 511.15,257.43 511.20,254.09 511.26,250.94 511.32,247.95 511.38,245.10 511.44,242.39 511.50,239.79 511.55,237.31 511.61,234.92 511.67,232.63 511.73,230.41 511.79,228.28 511.85,226.22 511.91,224.22 511.96,222.29 512.02,220.41 512.08,218.59 512.14,216.83 512.20,215.11 512.26,213.43 512.31,211.80 512.37,210.21 512.43,208.66 512.49,207.15 512.55,205.67 512.61,204.22 512.66,202.81 512.72,201.42 512.78,200.07 512.84,198.74 512.90,197.44 512.96,196.16 513.01,194.91 513.07,193.68 513.13,192.47 513.19,191.29 513.25,190.13 513.31,188.98 513.36,187.86 513.42,186.75 513.48,185.66 513.54,184.59 513.60,183.54 513.66,182.50 513.71,181.48 513.77,180.47 513.83,179.48 513.89,178.50 513.95,177.54 514.01,176.59 514.06,175.65 514.12,174.73 514.18,173.81 514.24,172.91 514.30,172.02 514.36,171.15 514.41,170.28 514.47,169.42 514.53,168.58 514.59,167.74 514.65,166.91 514.71,166.10 514.76,165.29 514.82,164.49 514.88,163.71 514.94,162.93 515.00,162.15 515.06,161.39 515.12,160.64 515.17,159.89 515.23,159.15 515.29,158.42 515.35,157.70 515.41,156.98 515.47,156.27 515.52,155.57 515.58,154.87 515.64,154.18 515.70,153.50 515.76,152.82 515.82,152.16 515.87,151.49 515.93,150.83 515.99,150.18 516.05,149.54 516.11,148.90 516.17,148.26 516.22,147.64 516.28,147.01 516.34,146.39 516.40,145.78 516.46,145.17 516.52,144.57 516.57,143.97 516.63,143.38 516.69,142.79 516.75,142.21 516.81,141.63 516.87,141.06 516.92,140.49 516.98,139.93 517.04,139.37 517.10,138.81 517.16,138.26 517.22,137.71 517.27,137.17 517.33,136.63 517.39,136.09 517.45,135.56 517.51,135.04 517.57,134.51 517.62,133.99 517.68,133.48 517.74,132.97 517.80,132.46 517.86,131.95 517.92,131.45 517.97,130.95 518.03,130.46 518.09,129.97 518.15,129.48 518.21,129.00 518.27,128.52 518.32,128.04 518.38,127.57 518.44,127.10 518.50,126.63 518.56,126.17 518.62,125.71 518.68,125.25 518.73,124.80 518.79,124.35 518.85,123.90 518.91,123.46 518.97,123.02 519.03,122.58 519.08,122.15 519.14,121.71 519.20,121.29 519.26,120.86 519.32,120.44 519.38,120.02 519.43,119.60 519.49,119.19 519.55,118.78 519.61,118.37 519.67,117.97 519.73,117.57 519.78,117.17 519.84,116.77 519.90,116.38 519.96,115.99 520.02,115.60 520.08,115.22 520.13,114.84 520.19,114.46 520.25,114.09 520.31,113.72 520.37,113.35 520.43,112.98 520.48,112.62 520.54,112.26 520.60,111.90 520.66,111.55 520.72,111.20 520.78,110.85 520.83,110.50 520.89,110.16 520.95,109.82 521.01,109.49 521.07,109.15 521.13,108.82 521.18,108.50 521.24,108.17 521.30,107.85 521.36,107.53 521.42,107.22 521.48,106.90 521.53,106.59 521.59,106.29 521.65,105.98 521.71,105.68 521.77,105.38 521.83,105.09 521.89,104.79 521.94,104.50 522.00,104.22 522.06,103.93 522.12,103.65 522.18,103.37 522.24,103.10 522.29,102.82 522.35,102.55 522.41,102.29 522.47,102.02 522.53,101.76 522.59,101.50 522.64,101.24 522.70,100.99 522.76,100.74 522.82,100.49 522.88,100.24 522.94,100.00 522.99,99.76 523.05,99.52 523.11,99.28 523.17,99.05 523.23,98.82 523.29,98.59 523.34,98.36 523.40,98.14 523.46,97.91 523.52,97.70 523.58,97.48 523.64,97.26 523.69,97.05 523.75,96.84 523.81,96.63 523.87,96.43 523.93,96.22 523.99,96.02 524.04,95.82 524.10,95.63 524.16,95.43 524.22,95.24 524.28,95.05 524.34,94.86 524.39,94.67 524.45,94.49 524.51,94.30 524.57,94.12 524.63,93.94 524.69,93.76 524.74,93.59 524.80,93.41 524.86,93.24 524.92,93.07 524.98,92.90 525.04,92.74 525.09,92.57 525.15,92.41 525.21,92.25 525.27,92.09 525.33,91.93 525.39,91.77 525.45,91.61 525.50,91.46 525.56,91.31 525.62,91.16 525.68,91.01 525.74,90.86 525.80,90.71 525.85,90.57 525.91,90.42 525.97,90.28 526.03,90.14 526.09,90.00 526.15,89.86 526.20,89.72 526.26,89.59 526.32,89.45 526.38,89.32 526.44,89.19 526.50,89.06 526.55,88.93 526.61,88.80 526.67,88.67 526.73,88.54 526.79,88.42 526.85,88.29 526.90,88.17 526.96,88.05 527.02,87.93 527.08,87.81 527.14,87.69 527.20,87.57 527.25,87.46 527.31,87.34 527.37,87.23 527.43,87.11 527.49,87.00 527.55,86.89 527.60,86.78 527.66,86.67 527.72,86.56 527.78,86.45 527.84,86.34 528.76,84.76 529.68,83.35 530.60,82.08 531.53,80.94 532.45,79.90 533.37,78.95 534.29,78.07 535.21,77.26 536.13,76.50 537.06,75.79 537.98,75.12 538.90,74.49 539.82,73.90 540.74,73.34 541.67,72.81 542.59,72.30 543.51,71.81 544.43,71.35 545.35,70.90 546.28,70.48 547.20,70.07 548.12,69.67 549.04,69.29 549.96,68.93 550.88,68.57 551.81,68.23 552.73,67.90 553.65,67.58 554.57,67.26 555.49,66.96 556.42,66.67 557.34,66.38 558.26,66.10 559.18,65.83 560.10,65.57 561.03,65.31 561.95,65.06 562.87,64.81 563.79,64.57 564.71,64.34 565.63,64.11 566.56,63.88 567.48,63.66 568.40,63.45 569.32,63.24 570.24,63.03 571.17,62.83 572.09,62.63 573.01,62.44 573.93,62.24 574.85,62.06 575.78,61.87 576.70,61.69 577.62,61.51 578.54,61.34 579.46,61.16 580.38,60.99 581.31,60.83 582.23,60.66 583.15,60.50 584.07,60.34 584.99,60.19 585.92,60.03 586.84,59.88 587.76,59.73 588.68,59.58 589.60,59.44 590.53,59.29 591.45,59.15 592.37,59.01 593.29,58.87 594.21,58.73 595.13,58.60 596.06,58.47 596.98,58.34 597.90,58.21 598.82,58.08 599.74,57.95 600.67,57.83 601.59,57.70 602.51,57.58 603.43,57.46 604.35,57.34 605.28,57.22 606.20,57.11 607.12,56.99 608.04,56.88 608.96,56.77 609.88,56.65 610.81,56.54 611.73,56.43 612.65,56.33 613.57,56.22 614.49,56.11 615.42,56.01 616.34,55.90 617.26,55.80 618.18,55.70 619.10,55.60 620.02,55.50 620.95,55.40 621.87,55.30 622.79,55.20 623.71,55.11 624.63,55.01 625.56,54.92 626.48,54.82 627.40,54.73 628.32,54.64 629.24,54.55 630.17,54.46 631.09,54.37 632.01,54.28 632.93,54.19 633.85,54.10 634.77,54.02 635.70,53.93 636.62,53.84 637.54,53.76 638.46,53.68 639.38,53.59 640.31,53.51 641.23,53.43 642.15,53.35 643.07,53.26 643.99,53.18 644.92,53.10 645.84,53.03 646.76,52.95 647.68,52.87 648.60,52.79 649.52,52.72 650.45,52.64 651.37,52.56 652.29,52.49 653.21,52.41 654.13,52.34 655.06,52.27 655.98,52.19 656.90,52.12 657.82,52.05 658.74,51.98 659.67,51.91 660.59,51.83 661.51,51.76 662.43,51.69 663.35,51.63 664.27,51.56 665.20,51.49 666.12,51.42 667.04,51.35 667.96,51.29 668.88,51.22 669.81,51.15 670.73,51.09 671.65,51.02 672.57,50.96 673.49,50.89 674.42,50.83 675.34,50.76 676.26,50.70 677.18,50.64 678.10,50.57 679.02,50.51 679.95,50.45 680.87,50.39 681.79,50.33 682.71,50.27 683.63,50.21 684.56,50.15 685.48,50.09 686.40,50.03 687.32,49.97 688.24,49.91 689.17,49.85 690.09,49.79 691.01,49.73 691.93,49.67 692.85,49.62 693.77,49.56 694.70,49.50 695.62,49.45 696.54,49.39 697.46,49.33 698.38,49.28 699.31,49.22 700.23,49.17 701.15,49.11 702.07,49.06 702.99,49.01 703.92,48.95 704.84,48.90 705.76,48.84 706.68,48.79 707.60,48.74 708.52,48.69 709.45,48.63 710.37,48.58 711.29,48.53 712.21,48.48 713.13,48.43 714.06,48.38 714.98,48.32 715.90,48.27 716.82,48.22 717.74,48.17 718.66,48.12 719.59,48.07 720.51,48.02 721.43,47.98 722.35,47.93 723.27,47.88 724.20,47.83 725.12,47.78 726.04,47.73 726.96,47.68 727.88,47.64 728.81,47.59 729.73,47.54 730.65,47.49 731.57,47.45 732.49,47.40 733.41,47.35 734.34,47.31 735.26,47.26 736.18,47.22 737.10,47.17 738.02,47.12 738.95,47.08 739.87,47.03 740.79,46.99 741.71,46.94 742.63,46.90 743.56,46.86 744.48,46.81 745.40,46.77 746.32,46.72 747.24,46.68 748.16,46.64 749.09,46.59 750.01,46.55 750.93,46.51 751.85,46.46 752.77,46.42 753.70,46.38 754.62,46.34 755.54,46.29 756.46,46.25 757.38,46.21 758.31,46.17 759.23,46.13 760.15,46.09 761.07,46.04 761.99,46.00 762.91,45.96 763.84,45.92 764.76,45.88 765.68,45.84 766.60,45.80 767.52,45.76 768.45,45.72 769.37,45.68 770.29,45.64 771.21,45.60 772.13,45.56 773.06,45.52 773.98,45.48 774.90,45.44 775.82,45.41 776.74,45.37 777.66,45.33 778.59,45.29 779.51,45.25 780.43,45.21 781.35,45.18 782.27,45.14 783.20,45.10 784.12,45.06 785.04,45.02 785.96,44.99 786.88,44.95 787.81,44.91 788.73,44.88 789.65,44.84 790.57,44.80 791.49,44.77 792.41,44.73 793.34,44.69 794.26,44.66 795.18,44.62 796.10,44.58 797.02,44.55 797.95,44.51 798.87,44.48 799.79,44.44 800.71,44.41 801.63,44.37 802.56,44.33 803.48,44.30" fill="none" stroke="#0000ff" stroke-width="1.85" stroke-linejoin="round"></polyline>
<line x1="510.5" y1="93.10" x2="802.5" y2="93.10" stroke="#ff0000" stroke-width="1.75" stroke-dasharray="2.9,2.14"></line>
<text transform="translate(510.30,344.65) scale(1,1.03)" text-anchor="middle">0</text>
<text transform="translate(568.76,344.65) scale(1,1.03)" text-anchor="middle">200</text>
<text transform="translate(627.22,344.65) scale(1,1.03)" text-anchor="middle">400</text>
<text transform="translate(685.68,344.65) scale(1,1.03)" text-anchor="middle">600</text>
<text transform="translate(744.14,344.65) scale(1,1.03)" text-anchor="middle">800</text>
<text transform="translate(802.60,344.65) scale(1,1.03)" text-anchor="middle"><tspan class="h">1</tspan>000</text><path d="M575 0V1150Q512 1088 408 1026T220 934V1104Q368 1174 479 1273T638 1409H756V0Z" fill="rgb(0, 0, 0)" stroke="rgb(0, 0, 0)" stroke-width="23.1" transform="translate(802.60,344.65) scale(1,1.03) translate(-24.69,0.00) scale(0.01084,-0.01084)"></path>
<text transform="translate(507.5,288.50) scale(1,1.03)" text-anchor="end">300</text>
<text transform="translate(507.5,225.90) scale(1,1.03)" text-anchor="end">350</text>
<text transform="translate(507.5,163.30) scale(1,1.03)" text-anchor="end">400</text>
<text transform="translate(507.5,100.70) scale(1,1.03)" text-anchor="end">450</text>
<text transform="translate(507.5,38.10) scale(1,1.03)" text-anchor="end">500</text>
<text class="l" x="417.2" y="16.8">(b)</text>
<text x="656" y="374.6" text-anchor="middle">irradiance (W/m<tspan class="s" dy="-7.8">2</tspan><tspan dy="7.8" dx="1">)</tspan></text>
<text transform="translate(460,175) rotate(-90)" text-anchor="middle">thermal velocity (m/s)</text>
</svg></body></html>
